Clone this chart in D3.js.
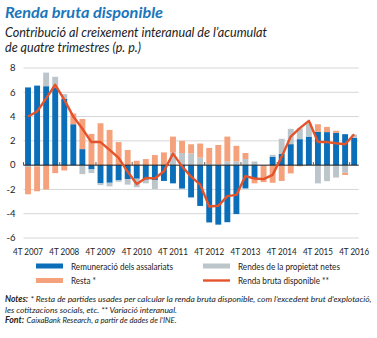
<!DOCTYPE html>
<html>
<head>
<meta charset="utf-8">
<script src="https://cdn.jsdelivr.net/npm/d3@7"></script>
<style>
    body { margin: 0; background: #fff; }
    svg text { font-family: Lato, "Open Sans", sans-serif; }
</style>
</head>
<body>
<svg width="377" height="338"></svg>
<script>
// quarters, 4T 2007 .. 4T 2016
var quarters = ["4T 2007",
    "1T 2008", "2T 2008", "3T 2008", "4T 2008",
    "1T 2009", "2T 2009", "3T 2009", "4T 2009",
    "1T 2010", "2T 2010", "3T 2010", "4T 2010",
    "1T 2011", "2T 2011", "3T 2011", "4T 2011",
    "1T 2012", "2T 2012", "3T 2012", "4T 2012",
    "1T 2013", "2T 2013", "3T 2013", "4T 2013",
    "1T 2014", "2T 2014", "3T 2014", "4T 2014",
    "1T 2015", "2T 2015", "3T 2015", "4T 2015",
    "1T 2016", "2T 2016", "3T 2016", "4T 2016"];

var tickLabels = ["4T 2007", "4T 2008", "4T 2009", "4T 2010", "4T 2011",
    "4T 2012", "4T 2013", "4T 2014", "4T 2015", "4T 2016"];

var yTicks = [-6, -4, -2, 0, 2, 4, 6, 8];

// Remuneració dels assalariats
var remuneracio = [6.40, 6.55, 6.50, 6.40, 5.45, 3.37, 1.32, -0.35, -1.50, -1.45, -1.25, -1.15, -1.12,
    -1.20, -1.22, -1.30, -1.50, -1.93, -2.66, -3.36, -4.72, -4.90, -4.70, -4.03, -1.92,
    -1.10, 0.00, 0.70, 0.92, 1.73, 2.14, 2.35, 2.75, 2.72, 2.66, 2.55, 2.25];
// Rendes de la propietat netes
var propietat = [-0.15, -0.10, 1.12, 0.88, 0.40, 0.00, -0.74, -0.30, -0.15, -0.30, -0.12, -0.45, -0.70,
    -0.30, -0.75, 0.00, 1.04, 1.00, 0.97, 0.62, 0.10, 0.05, 0.32, 0.32, 0.50,
    0.30, -0.05, 0.15, 1.25, 1.26, 0.90, 1.10, -1.50, -1.32, -1.02, -0.63, 0.27];
// Resta *
var resta = [-2.25, -2.05, -2.00, -0.66, -0.44, 0.88, 2.48, 2.57, 3.45, 2.90, 1.90, 1.25, 0.36,
    0.50, 0.83, 1.05, 1.31, 1.00, 0.75, 1.16, 1.32, 1.61, 2.03, 1.27, 0.50,
    -0.40, -1.35, -1.45, -1.30, -0.68, -0.10, 0.00, 0.62, 0.43, 0.17, -0.18, 0.00];
// Renda bruta disponible **
var rendaBruta = [4.00, 4.42, 5.50, 6.62, 5.40, 4.00, 3.00, 1.90, 1.90, 1.25, 0.60, -0.55, -1.55,
    -1.05, -1.10, -0.50, 0.95, -0.10, -0.95, -1.60, -3.40, -3.35, -2.55, -2.45, -0.90,
    -1.10, -1.15, -0.80, 0.70, 2.35, 3.05, 3.65, 1.90, 1.90, 1.80, 1.72, 2.55];

var colors = {rem: "#0a6eb9", prop: "#bcc5ca", resta: "#f5a27c", line: "#e5532b"};

var svg = d3.select("svg");

// stretch/squeeze a text to the width it has in the reference
function fit(sel, w) {
    sel.attr("textLength", w).attr("lengthAdjust", "spacingAndGlyphs");
    return sel;
}

// titles
fit(svg.append("text").attr("x", 5).attr("y", 18)
    .style("font-size", "15.5px").style("font-weight", "bold").style("font-style", "italic")
    .attr("fill", "#1b76bc").text("Renda bruta disponible"), 158);
fit(svg.append("text").attr("x", 5).attr("y", 36.5)
    .style("font-size", "12.5px").style("font-style", "italic").attr("fill", "#222")
    .text("Contribució al creixement interanual de l’acumulat"), 262);
fit(svg.append("text").attr("x", 5).attr("y", 52)
    .style("font-size", "12.5px").style("font-style", "italic").attr("fill", "#222")
    .text("de quatre trimestres (p. p.)"), 136);

var x = d3.scaleBand().domain(quarters).range([23.5, 358.7]).paddingInner(0.35).paddingOuter(0.175),
    y = d3.scaleLinear().domain([-6, 8]).range([238, 68]);

// grid
svg.append("g").selectAll("line").data(yTicks.filter(function(d) { return d != 0; }))
    .enter().append("line")
    .attr("x1", 23.5).attr("x2", 358.7)
    .attr("y1", function(d) { return y(d); }).attr("y2", function(d) { return y(d); })
    .attr("stroke", "#d6d6d6").attr("stroke-width", 1);

svg.append("g").selectAll("text").data(yTicks).enter().append("text")
    .attr("x", 15.5).attr("y", function(d) { return y(d) + 3.3; })
    .attr("text-anchor", "end").style("font-size", "9.5px").attr("fill", "#222")
    .text(function(d) { return d; });

// stacked bars
var rows = quarters.map(function(q, i) {
    return {q: q, rem: remuneracio[i], prop: propietat[i], resta: resta[i]};
});
var series = d3.stack().keys(["rem", "prop", "resta"]).offset(d3.stackOffsetDiverging)(rows);

svg.append("g").selectAll("g").data(series).enter().append("g")
    .attr("fill", function(s) { return colors[s.key]; })
    .selectAll("rect").data(function(s) { return s; }).enter().append("rect")
    .attr("x", function(d) { return x(d.data.q); })
    .attr("width", x.bandwidth())
    .attr("y", function(d) { return y(Math.max(d[0], d[1])); })
    .attr("height", function(d) { return Math.abs(y(d[0]) - y(d[1])); });

// zero line and ticks
svg.append("line").attr("x1", 23.5).attr("x2", 358.7).attr("y1", y(0)).attr("y2", y(0))
    .attr("stroke", "#1a1a1a").attr("stroke-width", 1);
svg.append("g").selectAll("line").data(tickLabels).enter().append("line")
    .attr("x1", function(d) { return x(d) - x.step() * 0.175; })
    .attr("x2", function(d) { return x(d) - x.step() * 0.175; })
    .attr("y1", y(0) - 3).attr("y2", y(0))
    .attr("stroke", "#555").attr("stroke-width", 1);

// line
var line = d3.line()
    .x(function(d, i) { return x(quarters[i]) + x.bandwidth() / 2; })
    .y(function(d) { return y(d); });
svg.append("path").datum(rendaBruta).attr("d", line)
    .attr("fill", "none").attr("stroke", colors.line).attr("stroke-width", 2.4)
    .attr("stroke-linejoin", "round");

// x labels
svg.append("g").selectAll("text").data(tickLabels).enter().append("text")
    .attr("x", function(d) { return x(d) + x.bandwidth() / 2; })
    .attr("y", 254.5).attr("text-anchor", "middle")
    .style("font-size", "10px").attr("fill", "#222")
    .attr("textLength", 30).attr("lengthAdjust", "spacingAndGlyphs")
    .text(function(d) { return d; });

// legend
var legend = [
    {label: "Remuneració dels assalariats", color: colors.rem, x: 36, y: 266, w: 102, type: "bar"},
    {label: "Rendes de la propietat netes", color: colors.prop, x: 203, y: 266, w: 102, type: "bar"},
    {label: "Resta *", color: colors.resta, x: 36, y: 280.5, w: 25, type: "bar"},
    {label: "Renda bruta disponible **", color: colors.line, x: 203, y: 280.5, w: 91, type: "line"}
];
var lg = svg.append("g").selectAll("g").data(legend).enter().append("g");
lg.append("rect")
    .attr("x", function(d) { return d.x; })
    .attr("y", function(d) { return d.type == "bar" ? d.y - 2.5 : d.y - 1.2; })
    .attr("width", 27)
    .attr("height", function(d) { return d.type == "bar" ? 5 : 2.4; })
    .attr("fill", function(d) { return d.color; });
lg.append("text")
    .attr("x", function(d) { return d.x + 35; })
    .attr("y", function(d) { return d.y + 3.5; })
    .style("font-size", "10px").attr("fill", "#222")
    .attr("textLength", function(d) { return d.w; }).attr("lengthAdjust", "spacingAndGlyphs")
    .text(function(d) { return d.label; });

// notes, each piece its own text
var notes = [
    {t: "Notes:", x: 5, y: 301.5, w: 23, bold: true},
    {t: "* Resta de partides usades per calcular la renda bruta disponible, com l’excedent brut d’explotació,", x: 30.5, y: 301.5, w: 341, bold: false},
    {t: "les cotitzacions socials, etc.   ** Variació interanual.", x: 5, y: 312.5, w: 172, bold: false},
    {t: "Font:", x: 5, y: 323, w: 19, bold: true},
    {t: "CaixaBank Research, a partir de dades de l’INE.", x: 26.5, y: 323, w: 150, bold: false}
];
svg.append("g").selectAll("text").data(notes).enter().append("text")
    .attr("x", function(d) { return d.x; }).attr("y", function(d) { return d.y; })
    .style("font-size", "8.5px").style("font-style", "italic")
    .style("font-weight", function(d) { return d.bold ? "bold" : "normal"; })
    .attr("fill", "#222")
    .attr("textLength", function(d) { return d.w; }).attr("lengthAdjust", "spacingAndGlyphs")
    .text(function(d) { return d.t; });
</script>
</body>
</html>
